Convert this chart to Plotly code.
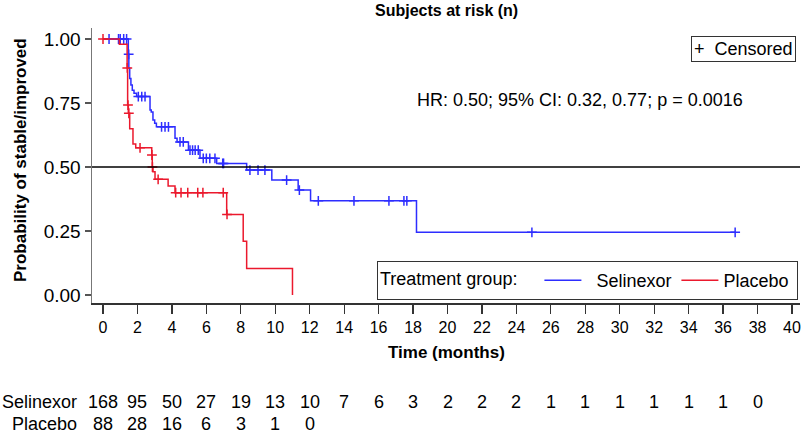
import numpy as np
import plotly.graph_objects as go

# ---------------- data ----------------
sel_t = [0, 1.47, 1.50, 1.55, 1.62, 1.70, 1.80, 1.95, 2.73, 2.80, 2.90, 3.00, 3.10,
         4.18, 4.30, 4.96, 5.63, 6.60, 8.34, 9.80, 11.33, 12.05, 18.20, 36.7]
sel_s = [1.0, 0.94, 0.887, 0.846, 0.82, 0.80, 0.788, 0.775, 0.723, 0.715, 0.684, 0.671, 0.657,
         0.612, 0.598, 0.566, 0.534, 0.514, 0.488, 0.449, 0.41, 0.368, 0.245, 0.245]
sel_cens = [0.35, 0.9, 1.0, 1.2, 1.37, 1.49, 2.05, 2.25, 2.44, 3.4, 3.6, 3.8, 4.47, 4.66,
            5.05, 5.2, 5.35, 5.53, 5.82, 6.0, 6.2, 6.5, 6.95, 7.0, 8.53, 9.0, 9.4, 10.66,
            11.4, 12.5, 14.57, 16.6, 17.47, 17.64, 24.9, 36.7]

pla_t = [0, 0.95, 1.40, 1.43, 1.47, 1.55, 1.74, 1.90, 2.83, 2.86, 2.90, 3.02, 3.78, 4.18,
         7.18, 8.14, 8.34, 11.0]
pla_s = [1.0, 0.98, 0.887, 0.742, 0.71, 0.65, 0.59, 0.575, 0.547, 0.50, 0.482, 0.452, 0.426,
         0.40, 0.315, 0.21, 0.104, 0.0]
pla_cens = [0.0, 1.41, 1.45, 1.50, 2.15, 2.84, 2.87, 3.2, 4.22, 4.53, 4.92, 5.5, 5.8, 6.98, 7.2]

risk_times = list(range(0, 40, 2))
risk_sel = [168, 95, 50, 27, 19, 13, 10, 7, 6, 3, 2, 2, 2, 1, 1, 1, 1, 1, 1, 0]
risk_pla = [88, 28, 16, 6, 3, 1, 0]

x_ticks = list(range(0, 41, 2))
y_ticks = [0, 0.25, 0.5, 0.75, 1.0]

BLUE = "rgb(45,45,255)"
RED = "rgb(235,25,45)"
NARROW = "Liberation Sans Narrow, Arial Narrow, Liberation Sans, Arial, sans-serif"
SANS = "Liberation Sans, Arial, Helvetica, sans-serif"
NB = "\u00a0"


def surv_at(times, surv, tc):
    idx = np.searchsorted(np.array(times), np.array(tc), side="right") - 1
    return list(np.array(surv)[idx])


fig = go.Figure()

for name, label, t, s, cens, col, lw in [
        ("Selinexor", NB * 2 + "Selinexor", sel_t, sel_s, sel_cens, BLUE, 85),
        ("Placebo", "Placebo", pla_t, pla_s, pla_cens, RED, 68)]:
    fig.add_trace(go.Scatter(x=t, y=s, mode="lines", name=label, legendwidth=lw,
                             line=dict(color=col, width=1.5, shape="hv"),
                             legendgroup=name, hoverinfo="skip"))
    fig.add_trace(go.Scatter(x=cens, y=surv_at(t, s, cens), mode="markers",
                             showlegend=False, legendgroup=name, hoverinfo="skip",
                             marker=dict(symbol="cross-thin", size=7,
                                         line=dict(color=col, width=1.5))))

# 0.5 reference line
fig.add_shape(type="line", xref="paper", x0=0, x1=1, yref="y", y0=0.5, y1=0.5,
              line=dict(color="black", width=1.5))

ann = []
# Title
ann.append(dict(text="<b>Subjects at risk (n)</b>", xref="paper", yref="paper",
                x=0.5, y=1 + 18 / 275, xanchor="center", yanchor="middle",
                showarrow=False, font=dict(family=NARROW, size=16, color="black")))
# y title
ann.append(dict(text="<b>Probability of stable/improved</b>", xref="paper", yref="paper",
                x=-72 / 708, y=0.52, textangle=-90, xanchor="center", yanchor="middle",
                showarrow=False, font=dict(family=SANS, size=17, color="black")))
# x title
ann.append(dict(text="<b>Time (months)</b>", xref="paper", yref="paper",
                x=0.5, y=-49 / 275, xanchor="center", yanchor="middle",
                showarrow=False, font=dict(family=NARROW, size=17, color="black")))
# HR text
ann.append(dict(text="HR: 0.50; 95% CI: 0.32, 0.77; p = 0.0016", xref="x", yref="y",
                x=18.1, y=0.762, xanchor="left", yanchor="middle", showarrow=False,
                font=dict(family=SANS, size=18, color="black")))
# Censored box
ann.append(dict(text="+  Censored", xref="paper", yref="paper",
                x=0.995, y=(303 - 49) / 275, xanchor="right", yanchor="middle",
                showarrow=False, bordercolor="#333", borderwidth=1, borderpad=2,
                bgcolor="white", font=dict(family=SANS, size=18, color="black")))
# Risk table
for lab, vals, ypx in [("Selinexor", risk_sel, 402), ("Placebo", risk_pla, 424)]:
    yp = (303 - ypx) / 275
    ann.append(dict(text=lab, xref="paper", yref="paper", x=-13 / 708, y=yp,
                    xanchor="right", yanchor="middle", showarrow=False,
                    font=dict(family=NARROW, size=18, color="black")))
    for tt, v in zip(risk_times, vals):
        ann.append(dict(text=str(v), xref="x", yref="paper", x=tt, y=yp,
                        xanchor="center", yanchor="middle", showarrow=False,
                        font=dict(family=NARROW, size=18, color="black")))

fig.update_layout(
    width=805, height=435,
    margin=dict(l=92, r=5, t=28, b=132),
    paper_bgcolor="white", plot_bgcolor="white",
    annotations=ann,
    showlegend=True,
    hovermode=False,
    legend=dict(orientation="h", x=285 / 708, xanchor="left", y=3 / 275, yanchor="bottom",
                title=dict(text="Treatment group:   ", side="left",
                           font=dict(family=SANS, size=18, color="black")),
                font=dict(family=SANS, size=18, color="black"),
                bordercolor="#333", borderwidth=1, bgcolor="white",
                itemwidth=37, tracegroupgap=0),
    xaxis=dict(range=[-0.639, 40.465], tickvals=x_ticks, ticktext=[str(v) for v in x_ticks],
               showgrid=False, zeroline=False, showline=True, linecolor="#333", linewidth=1.5,
               ticks="outside", ticklen=9, tickwidth=1.2, tickcolor="#333",
               tickfont=dict(family=NARROW, size=16, color="black")),
    yaxis=dict(range=[-0.031, 1.043], tickvals=y_ticks, ticktext=[f"{v:.2f}" for v in y_ticks],
               showgrid=False, zeroline=False, showline=True, linecolor="#777", linewidth=1.5,
               ticks="outside", ticklen=6, tickwidth=1.2, tickcolor="#555",
               tickfont=dict(family=SANS, size=19, color="black")),
)

fig.write_html("out.html", config={"displayModeBar": False, "staticPlot": True},
               post_script="document.body.style.margin='0';")
